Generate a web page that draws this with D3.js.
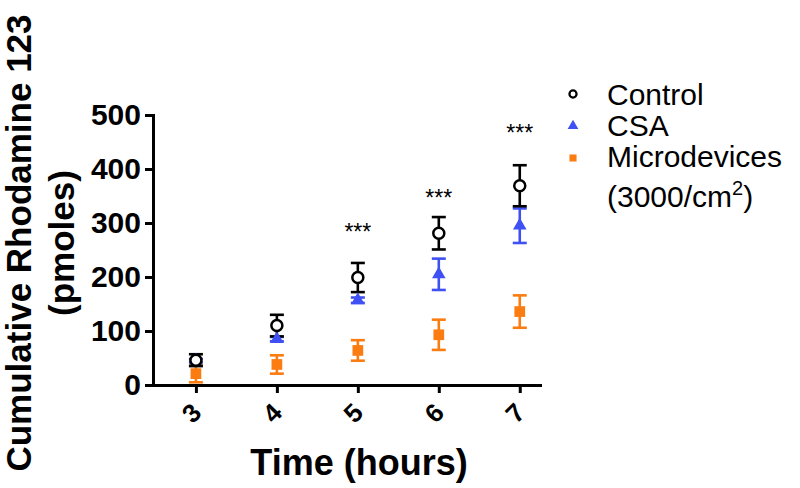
<!DOCTYPE html>
<html>
<head>
<meta charset="utf-8">
<script src="https://cdn.jsdelivr.net/npm/d3@7"></script>
<style>
  body { margin: 0; background: #fff; }
  svg { font-family: "Liberation Sans", Arial, Helvetica, sans-serif; }
</style>
</head>
<body>
<div id="chart"></div>
<script>
// time points (hours)
const hours = [3, 4, 5, 6, 7];

// cumulative rhodamine 123 (pmoles), mean and error
const controlMean = [46, 110, 199, 281, 369];
const controlErr = [11, 20, 27, 30, 38];
const csaMean = [45, 85, 157, 205, 295];
const csaErr = [3, 4, 5, 29, 32];
const microMean = [21, 38, 64, 93, 136];
const microErr = [16, 17, 19, 28, 30];

// significance marks
const sigHours = [5, 6, 7];
const sigLevel = [269, 332, 452];
const sigText = ["***", "***", "***"];

const yTicks = [0, 100, 200, 300, 400, 500];

const width = 800, height = 488;

const svg = d3.select("#chart").append("svg")
  .attr("width", width)
  .attr("height", height);

const x = d3.scaleLinear().domain([2.47, 7.25]).range([153, 540]);
const y = d3.scaleLinear().domain([0, 500]).range([385, 115]);

const series = [
  { name: "Microdevices", mean: microMean, err: microErr, color: "#fb7d12", shape: d3.symbolSquare, size: 115 },
  { name: "CSA", mean: csaMean, err: csaErr, color: "#3f51f2", shape: d3.symbolTriangle, size: 80 },
  { name: "Control", mean: controlMean, err: controlErr, color: "#000000", shape: d3.symbolCircle, size: 95 }
];

// axes
const yAxis = svg.append("g")
  .attr("transform", `translate(${x.range()[0]},0)`)
  .call(d3.axisLeft(y).tickValues(yTicks).tickSize(8).tickSizeOuter(0).tickPadding(4));

const xAxis = svg.append("g")
  .attr("transform", `translate(0,${y.range()[0]})`)
  .call(d3.axisBottom(x).tickValues(hours).tickSize(8).tickSizeOuter(0).tickFormat(d3.format("d")));

[xAxis, yAxis].forEach(function (g) {
  g.select(".domain").attr("stroke", "#000").attr("stroke-width", 3).attr("stroke-linecap", "square");
  g.selectAll(".tick line").attr("stroke", "#000").attr("stroke-width", 3);
});

yAxis.selectAll(".tick text")
  .attr("font-size", 30)
  .attr("font-weight", "bold")
  .attr("fill", "#000");

xAxis.selectAll(".tick text")
  .attr("font-size", 26)
  .attr("font-weight", "bold")
  .attr("fill", "#000")
  .attr("text-anchor", "middle")
  .attr("dy", null)
  .attr("y", 0)
  .attr("dominant-baseline", "central")
  .attr("transform", "translate(-5,28) rotate(-45)");

// error bars then markers
const capHalf = 7;
series.forEach(function (s) {
  const g = svg.append("g").attr("stroke", s.color).attr("stroke-width", 2.6);
  hours.forEach(function (h, i) {
    const cx = x(h);
    const top = y(s.mean[i] + s.err[i]);
    const bot = y(s.mean[i] - s.err[i]);
    g.append("line").attr("x1", cx).attr("x2", cx).attr("y1", top).attr("y2", bot);
    g.append("line").attr("x1", cx - capHalf).attr("x2", cx + capHalf).attr("y1", top).attr("y2", top);
    g.append("line").attr("x1", cx - capHalf).attr("x2", cx + capHalf).attr("y1", bot).attr("y2", bot);
  });
});

series.forEach(function (s) {
  svg.append("g").selectAll("path")
    .data(hours)
    .enter().append("path")
    .attr("transform", (h, i) => `translate(${x(h)},${y(s.mean[i])})`)
    .attr("d", d3.symbol().type(s.shape).size(s.size))
    .attr("fill", s.name === "Control" ? "#fff" : s.color)
    .attr("stroke", s.name === "Control" ? "#000" : "none")
    .attr("stroke-width", 2.5);
});

// significance
svg.append("g").selectAll("text")
  .data(sigHours)
  .enter().append("text")
  .attr("x", d => x(d))
  .attr("y", (d, i) => y(sigLevel[i]))
  .attr("text-anchor", "middle")
  .attr("font-size", 23)
  .text((d, i) => sigText[i]);

// axis titles
svg.append("text")
  .attr("x", 359)
  .attr("y", 475)
  .attr("text-anchor", "middle")
  .attr("font-size", 36)
  .attr("font-weight", "bold")
  .text("Time (hours)");

const yTitle = svg.append("text")
  .attr("transform", "translate(31,243) rotate(-90)")
  .attr("text-anchor", "middle")
  .attr("font-size", 35)
  .attr("font-weight", "bold");
yTitle.append("tspan").attr("x", 0).attr("y", 0).text("Cumulative Rhodamine 123");
yTitle.append("tspan").attr("x", 0).attr("y", 43).text("(pmoles)");

// legend
const legendItems = [series[2], series[1], series[0]];
const legend = svg.append("g").attr("transform", "translate(573,0)");
legendItems.forEach(function (s, i) {
  const cy = 94 + i * 32;
  legend.append("path")
    .attr("transform", `translate(0,${cy})`)
    .attr("d", d3.symbol().type(s.shape).size(s.name === "Control" ? 40 : 50))
    .attr("fill", s.name === "Control" ? "#fff" : s.color)
    .attr("stroke", s.name === "Control" ? "#000" : "none")
    .attr("stroke-width", 2.2);
  legend.append("text")
    .attr("x", 34)
    .attr("y", 105 + i * 31)
    .attr("font-size", 30)
    .text(s.name);
});
const unitText = legend.append("text")
  .attr("x", 34)
  .attr("y", 207)
  .attr("font-size", 30);
unitText.append("tspan").text("(3000/cm");
unitText.append("tspan").attr("font-size", 20).attr("dy", -12).text("2");
unitText.append("tspan").attr("dy", 12).text(")");
</script>
</body>
</html>
